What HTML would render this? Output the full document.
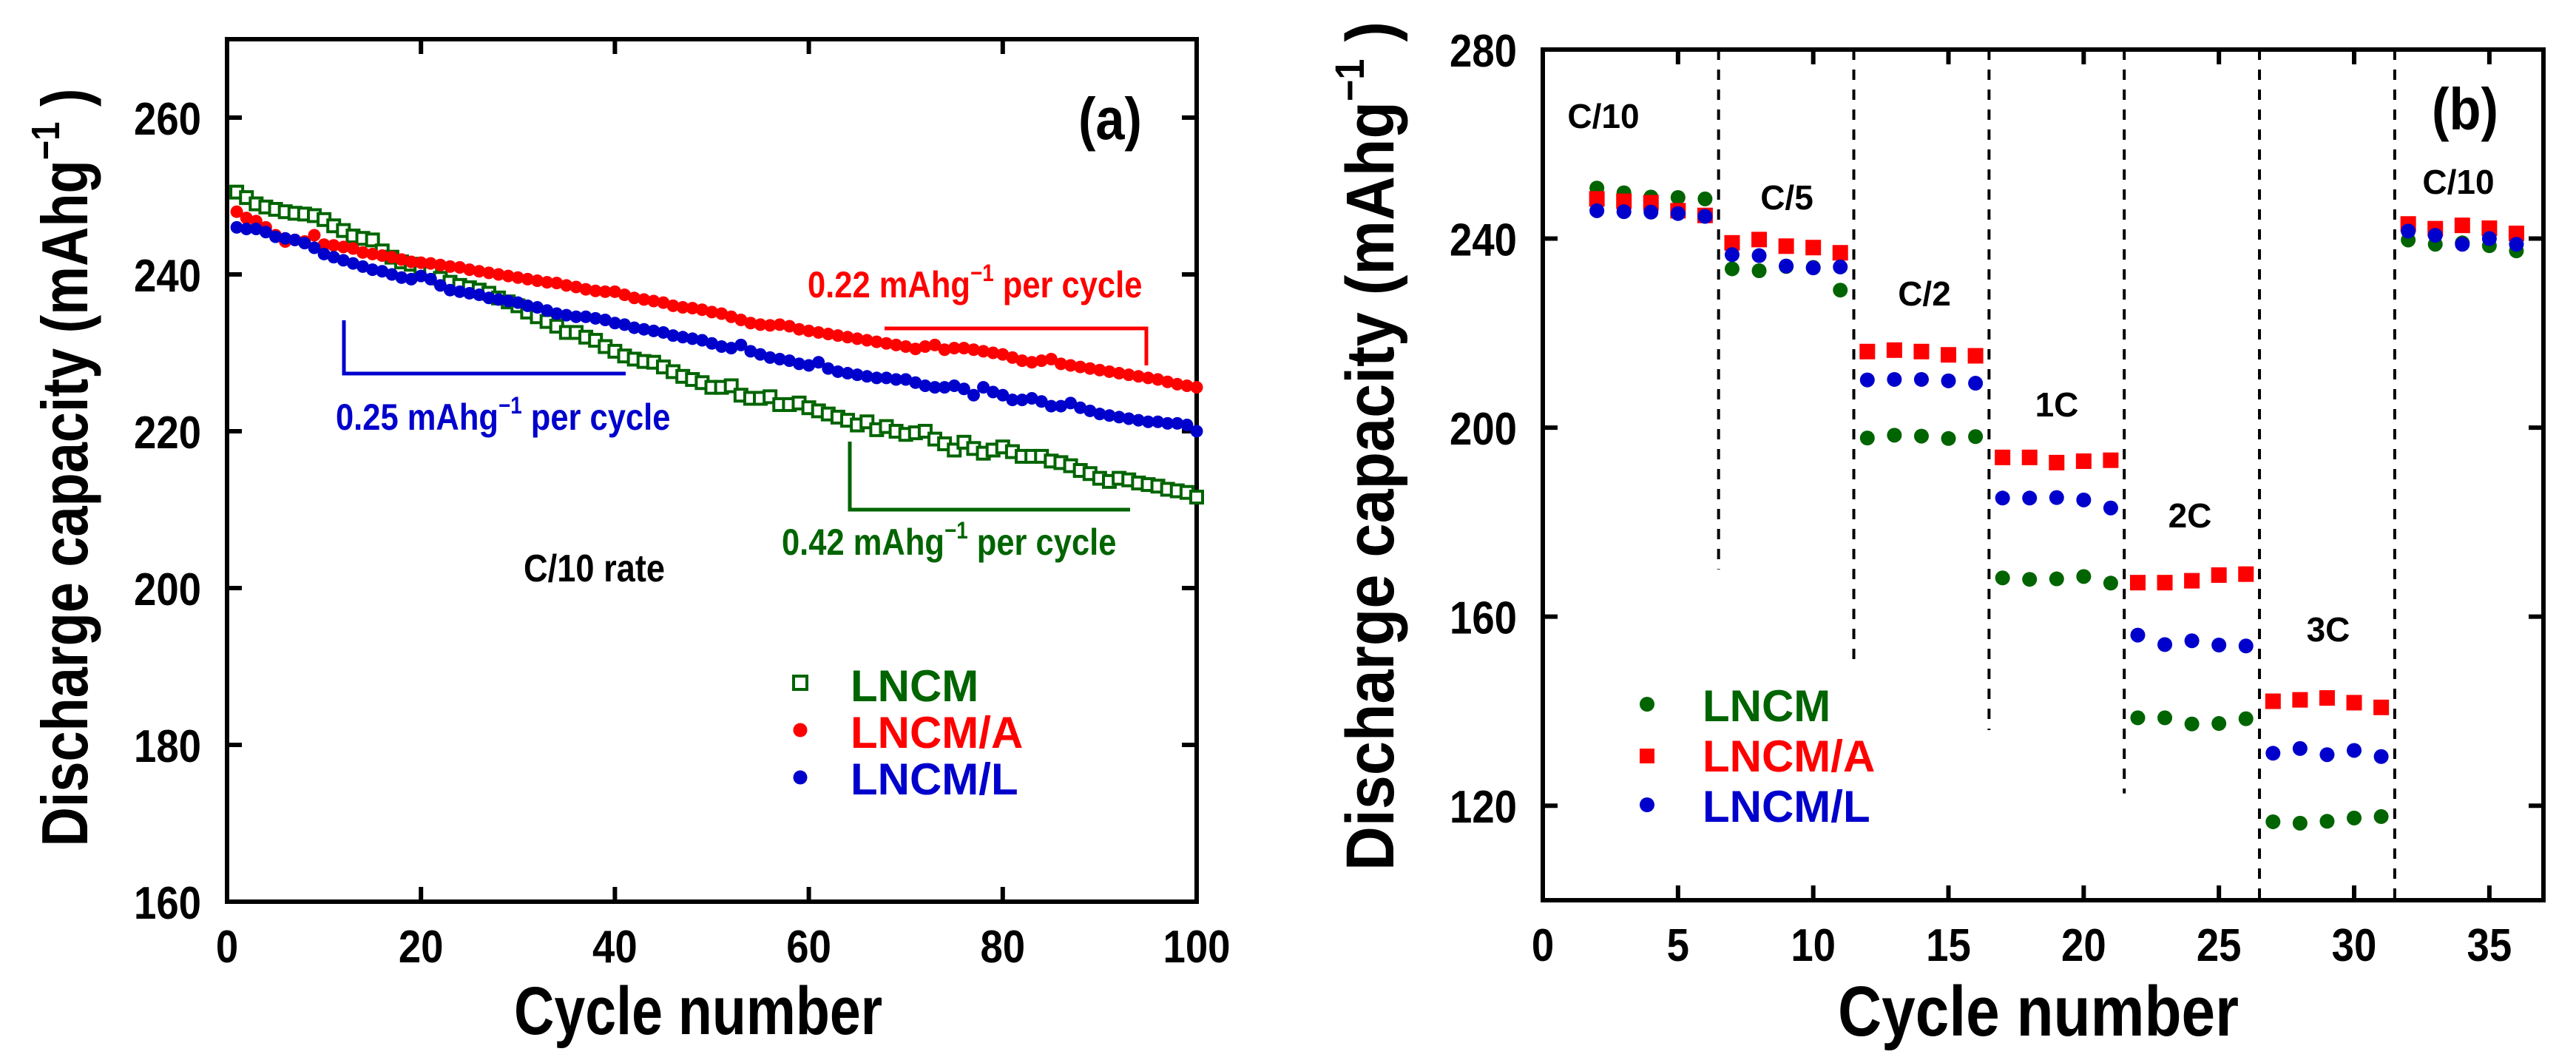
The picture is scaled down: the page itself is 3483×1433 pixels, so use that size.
<!DOCTYPE html>
<html><head><meta charset="utf-8"><style>
html,body{margin:0;padding:0;background:#fff;}
svg{display:block;}
text{font-family:"Liberation Sans",Arial,sans-serif;font-weight:bold;}
</style></head><body>
<svg id="fig" width="3483" height="1433" viewBox="0 0 3483 1433" xmlns="http://www.w3.org/2000/svg">
<rect width="3483" height="1433" fill="#fff"/>
<g id="pa"></g>
<g id="pb"></g>

<!-- Panel a static text -->
<text x="944" y="1398" font-size="92" text-anchor="middle" textLength="498" lengthAdjust="spacingAndGlyphs">Cycle number</text>
<text transform="translate(118,632) rotate(-90) scale(0.84,1)" font-size="88" text-anchor="middle">Discharge capacity (mAhg<tspan dy="-38" font-size="54">−1</tspan><tspan dy="38"> )</tspan></text>
<text x="1501" y="188" font-size="80" text-anchor="middle" transform="translate(1501,0) scale(0.88,1) translate(-1501,0)">(a)</text>
<text x="1092" y="402" font-size="50" fill="#ff0000" transform="translate(1092,0) scale(0.87,1) translate(-1092,0)">0.22 mAhg<tspan dy="-22" font-size="32">−1</tspan><tspan dy="22"> per cycle</tspan></text>
<text x="454" y="581" font-size="50" fill="#0000cc" transform="translate(454,0) scale(0.87,1) translate(-454,0)">0.25 mAhg<tspan dy="-22" font-size="32">−1</tspan><tspan dy="22"> per cycle</tspan></text>
<text x="1057" y="750" font-size="50" fill="#006400" transform="translate(1057,0) scale(0.87,1) translate(-1057,0)">0.42 mAhg<tspan dy="-22" font-size="32">−1</tspan><tspan dy="22"> per cycle</tspan></text>
<text x="708" y="786" font-size="52" transform="translate(708,0) scale(0.87,1) translate(-708,0)">C/10 rate</text>
<polyline points="1196,444 1550,444 1550,494" fill="none" stroke="#ff0000" stroke-width="5"/>
<polyline points="465,433 465,505 846,505" fill="none" stroke="#0000cc" stroke-width="5"/>
<polyline points="1149,597 1149,689 1528,689" fill="none" stroke="#006400" stroke-width="5"/>
<g>
<rect x="1073" y="914" width="18" height="18" fill="#fff" stroke="#006400" stroke-width="4"/>
<circle cx="1082" cy="987" r="9.5" fill="#ff0000"/>
<circle cx="1082" cy="1051" r="9.5" fill="#0000cc"/>
<text x="1150" y="948" font-size="60" fill="#006400">LNCM</text>
<text x="1150" y="1011" font-size="60" fill="#ff0000">LNCM/A</text>
<text x="1150" y="1074" font-size="60" fill="#0000cc">LNCM/L</text>
</g>

<!-- Panel b static text -->
<text x="2756" y="1400" font-size="96" text-anchor="middle" textLength="542" lengthAdjust="spacingAndGlyphs">Cycle number</text>
<text transform="translate(1884,603) rotate(-90) scale(0.9,1)" font-size="92" text-anchor="middle">Discharge capacity (mAhg<tspan dy="-40" font-size="56">−1</tspan><tspan dy="40"> )</tspan></text>
<text x="3333" y="175" font-size="80" text-anchor="middle" transform="translate(3333,0) scale(0.88,1) translate(-3333,0)">(b)</text>
<g font-size="46" text-anchor="middle">
<text x="2168" y="173">C/10</text>
<text x="2416" y="283">C/5</text>
<text x="2602" y="413">C/2</text>
<text x="2781" y="563">1C</text>
<text x="2961" y="713">2C</text>
<text x="3148" y="867">3C</text>
<text x="3324" y="262">C/10</text>
</g>
<g>
<circle cx="2227" cy="952" r="10" fill="#006400"/>
<rect x="2217" y="1012" width="20" height="20" fill="#ff0000"/>
<circle cx="2227" cy="1088" r="10" fill="#0000cc"/>
<text x="2302" y="975" font-size="60" fill="#006400">LNCM</text>
<text x="2302" y="1043" font-size="60" fill="#ff0000">LNCM/A</text>
<text x="2302" y="1111" font-size="60" fill="#0000cc">LNCM/L</text>
</g>
</svg>
<script>
// ---------- Panel (a) data ----------
const cyclesA = Array.from({length:100},(_,i)=>i+1);
const lncmA = [250.5,249.8,249.0,248.6,248.3,248.0,247.8,247.7,247.5,247.0,
246.2,245.6,244.9,244.6,244.4,243.0,242.2,241.6,241.3,241.0,
240.2,239.5,239.0,238.6,238.3,238.0,237.6,237.0,236.5,236.0,
235.2,234.6,234.0,233.4,232.6,232.6,232.0,231.6,230.8,230.2,
229.6,229.2,228.9,228.8,228.2,227.6,227.0,226.6,226.2,225.6,
225.6,225.8,224.6,224.2,224.2,224.4,223.4,223.4,223.6,223.0,
222.6,222.2,221.8,221.4,220.8,221.2,220.2,220.6,220.0,219.6,
219.8,220.0,219.0,218.4,217.6,218.6,217.8,217.2,217.6,218.0,
217.4,216.8,216.8,216.8,216.2,216.0,215.6,215.0,214.6,214.0,
213.6,214.0,213.8,213.4,213.2,213.0,212.6,212.4,212.2,211.6];
const lncmAA = [248.0,247.2,246.8,246.0,245.0,244.2,244.4,244.2,245.0,243.8,
243.7,243.5,243.3,242.8,242.6,242.4,242.2,241.9,241.6,241.5,
241.4,241.2,241.0,240.9,240.6,240.4,240.2,240.0,239.8,239.6,
239.4,239.2,239.0,238.9,238.6,238.4,238.1,237.9,237.8,237.8,
237.4,237.0,236.8,236.6,236.4,236.0,235.8,235.7,235.5,235.2,
235.0,234.6,234.2,233.8,233.6,233.5,233.6,233.4,233.0,232.8,
232.6,232.4,232.2,232.0,231.8,231.6,231.4,231.2,231.0,230.8,
230.5,230.8,231.0,230.4,230.6,230.6,230.4,230.2,230.0,229.8,
229.4,229.0,228.8,229.0,229.2,228.6,228.4,228.2,228.0,227.8,
227.6,227.4,227.2,227.0,226.8,226.6,226.3,226.0,225.8,225.6];
const lncmLA = [246.0,245.8,245.8,245.4,244.8,244.6,244.4,244.0,243.4,242.6,
242.2,241.8,241.4,241.0,240.6,240.4,240.0,239.6,239.4,239.8,
239.4,238.6,238.0,237.8,237.6,237.4,237.0,236.8,236.6,236.4,
236.0,235.8,235.4,235.0,234.8,234.6,234.6,234.4,234.2,233.8,
233.6,233.2,233.0,232.8,232.6,232.2,232.0,231.8,231.6,231.2,
230.8,230.6,231.0,230.2,229.8,229.4,229.2,229.0,228.6,228.4,
228.8,228.0,227.6,227.4,227.2,227.0,226.8,226.8,226.6,226.6,
226.2,225.8,225.6,225.6,225.8,225.4,224.6,225.6,225.0,224.6,
224.0,224.0,224.2,223.8,223.2,223.2,223.6,223.0,222.6,222.2,
222.0,221.8,221.6,221.4,221.2,221.2,221.0,221.0,220.8,220.0];
const xTicksA = [0,20,40,60,80,100];
const yTicksA = [160,180,200,220,240,260];

// ---------- Panel (b) data ----------
const cyclesB = [2,3,4,5,6,7,8,9,10,11,12,13,14,15,16,17,18,19,20,21,22,23,24,25,26,27,28,29,30,31,32,33,34,35,36];
const lncmB = [250.7,249.7,248.8,248.7,248.4, 233.6,233.2,234.1,233.9,229.1, 197.8,198.4,198.2,197.7,198.1, 168.2,167.9,168.0,168.5,167.1, 138.6,138.6,137.3,137.4,138.4, 116.6,116.3,116.7,117.4,117.7, 239.7,238.8,239.1,238.5,237.4];
const lncmAB = [248.4,247.9,247.6,245.9,244.9, 239.1,239.8,238.4,238.1,237.0, 216.1,216.4,216.1,215.4,215.2, 193.7,193.7,192.6,192.9,193.1, 167.2,167.2,167.6,168.8,169.0, 142.1,142.4,142.8,141.8,140.8, 243.1,242.1,242.8,242.2,241.1];
const lncmLB = [245.9,245.7,245.6,245.3,244.7, 236.6,236.4,234.2,233.8,234.0, 210.1,210.2,210.2,209.9,209.4, 185.1,185.1,185.2,184.7,183.0, 156.1,154.1,154.9,154.0,153.8, 131.1,132.1,130.8,131.7,130.4, 241.6,240.7,238.8,240.0,238.8];
const dividerX = [6.5,11.5,16.5,21.5,26.5,31.5];
const dividerBottom = [170,151,136,122.6,100,100];
const xTicksB = [0,5,10,15,20,25,30,35];
const yTicksB = [120,160,200,240,280];

const NS='http://www.w3.org/2000/svg';
function mk(tag,parent){const e=document.createElementNS(NS,tag);parent.appendChild(e);return e;}

function axes(g, box, xd, yd, xt, yt, tickLen, prefix){
  const sx=v=>box.l+(v-xd[0])/(xd[1]-xd[0])*(box.r-box.l);
  const sy=v=>box.b-(v-yd[0])/(yd[1]-yd[0])*(box.b-box.t);
  xt.forEach(v=>{
    const x=sx(v);
    const t1=mk('line',g);
    
    
    t1.setAttribute('x1',x);t1.setAttribute('x2',x);t1.setAttribute('y1',box.b);t1.setAttribute('y2',box.b-tickLen);
    t1.setAttribute('stroke','#000');t1.setAttribute('stroke-width',6);
    const t2=mk('line',g);
    
    
    t2.setAttribute('x1',x);t2.setAttribute('x2',x);t2.setAttribute('y1',box.t);t2.setAttribute('y2',box.t+tickLen);
    t2.setAttribute('stroke','#000');t2.setAttribute('stroke-width',6);
    const tx=mk('text',g);
    
    
    tx.setAttribute('x',x);tx.setAttribute('y',box.b+82);tx.setAttribute('font-size',62);
    tx.setAttribute('text-anchor','middle');
    tx.setAttribute('transform','translate('+x+',0) scale(0.88,1) translate('+(-x)+',0)');
    tx.textContent=String(v);
  });
  yt.forEach(v=>{
    const y=sy(v);
    const t1=mk('line',g);
    
    
    t1.setAttribute('x1',box.l);t1.setAttribute('x2',box.l+tickLen);t1.setAttribute('y1',y);t1.setAttribute('y2',y);
    t1.setAttribute('stroke','#000');t1.setAttribute('stroke-width',6);
    const t2=mk('line',g);
    
    
    t2.setAttribute('x1',box.r);t2.setAttribute('x2',box.r-tickLen);t2.setAttribute('y1',y);t2.setAttribute('y2',y);
    t2.setAttribute('stroke','#000');t2.setAttribute('stroke-width',6);
    const tx=mk('text',g);
    
    
    const xr=box.l-35;
    tx.setAttribute('x',xr);tx.setAttribute('y',y+23);tx.setAttribute('font-size',62);
    tx.setAttribute('text-anchor','end');
    tx.setAttribute('transform','translate('+xr+',0) scale(0.88,1) translate('+(-xr)+',0)');
    tx.textContent=String(v);
  });
  const fr=mk('rect',g);
  
  
  fr.setAttribute('x',box.l);fr.setAttribute('y',box.t);fr.setAttribute('width',box.r-box.l);fr.setAttribute('height',box.b-box.t);
  fr.setAttribute('fill','none');fr.setAttribute('stroke','#000');fr.setAttribute('stroke-width',6);
  return {sx,sy};
}

// Panel a
const ga=document.getElementById('pa');
const A=axes(ga,{l:307,r:1618,t:53,b:1219},[0,100],[160,270],xTicksA,yTicksA,20,'panel-a');
const sa=mk('g',ga);


cyclesA.forEach((c,i)=>{
  const r=mk('rect',sa);
  
  
  r.setAttribute('x',A.sx(c)-8);r.setAttribute('y',A.sy(lncmA[i])-8);r.setAttribute('width',16);r.setAttribute('height',16);
  r.setAttribute('fill','#fff');r.setAttribute('stroke','#006400');r.setAttribute('stroke-width',4);
});
[[lncmAA,'#ff0000','point-lncm-a'],[lncmLA,'#0000cc','point-lncm-l']].forEach(s=>{
  const g=mk('g',ga);
  
  
  cyclesA.forEach((c,i)=>{
    const p=mk('circle',g);
    
    
    p.setAttribute('cx',A.sx(c));p.setAttribute('cy',A.sy(s[0][i]));p.setAttribute('r',8.5);p.setAttribute('fill',s[1]);
  });
});

// Panel b
const gb=document.getElementById('pb');
const B=axes(gb,{l:2086,r:3439,t:67,b:1217},[0,37],[100,280],xTicksB,yTicksB,20,'panel-b');
dividerX.forEach((x,i)=>{
  const l=mk('line',gb);
  
  
  l.setAttribute('x1',B.sx(x));l.setAttribute('x2',B.sx(x));l.setAttribute('y1',B.sy(280));l.setAttribute('y2',B.sy(dividerBottom[i]));
  l.setAttribute('stroke','#000');l.setAttribute('stroke-width',4);l.setAttribute('stroke-dasharray','14,13');
});
const gg=mk('g',gb);


cyclesB.forEach((c,i)=>{
  const p=mk('circle',gg);
  
  
  p.setAttribute('cx',B.sx(c));p.setAttribute('cy',B.sy(lncmB[i]));p.setAttribute('r',10);p.setAttribute('fill','#006400');
});
const gr=mk('g',gb);


cyclesB.forEach((c,i)=>{
  const p=mk('rect',gr);
  
  
  p.setAttribute('x',B.sx(c)-10.5);p.setAttribute('y',B.sy(lncmAB[i])-10.5);p.setAttribute('width',21);p.setAttribute('height',21);p.setAttribute('fill','#ff0000');
});
const gl=mk('g',gb);


cyclesB.forEach((c,i)=>{
  const p=mk('circle',gl);
  
  
  p.setAttribute('cx',B.sx(c));p.setAttribute('cy',B.sy(lncmLB[i]));p.setAttribute('r',10);p.setAttribute('fill','#0000cc');
});
</script>
</body></html>
